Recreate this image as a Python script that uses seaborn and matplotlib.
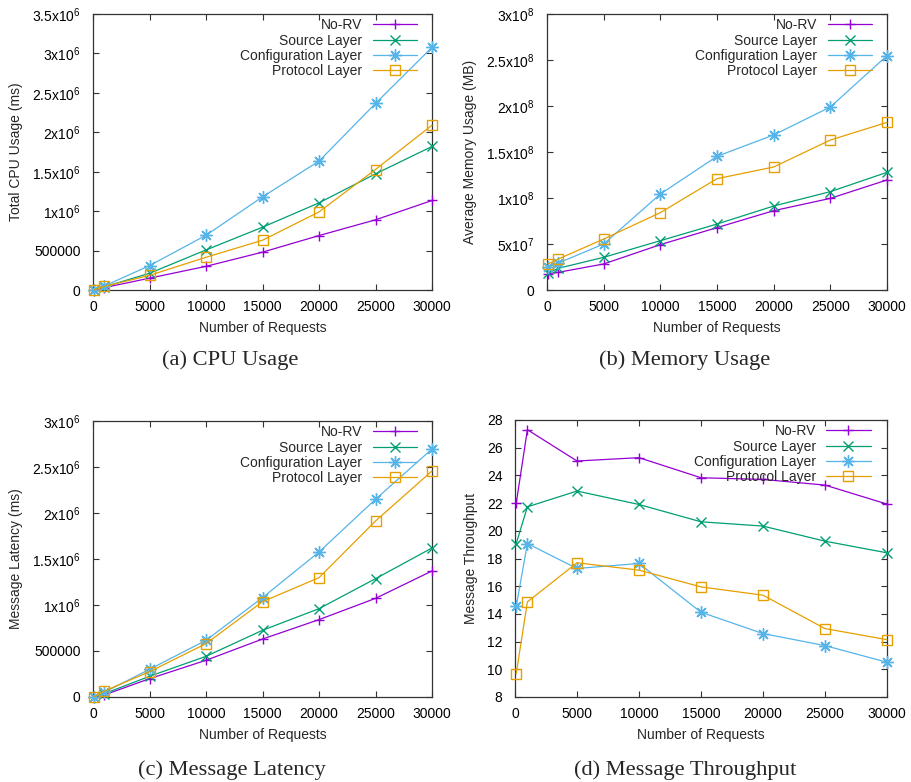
import matplotlib
matplotlib.use("Agg")
import matplotlib.pyplot as plt
import seaborn as sns
import numpy as np

# ---------------- data ----------------
requests = [100, 1000, 5000, 10000, 15000, 20000, 25000, 30000]
series_names = ["No-RV", "Source Layer", "Configuration Layer", "Protocol Layer"]

cpu_norv = [3000, 30000, 150000, 300000, 480000, 690000, 890000, 1135000]
cpu_source = [4000, 40000, 212000, 508000, 796000, 1105000, 1473000, 1820000]
cpu_config = [5000, 50000, 309000, 694000, 1181000, 1634000, 2366000, 3077000]
cpu_protocol = [5000, 45000, 186000, 415000, 631000, 990000, 1528000, 2090000]

mem_norv = [1.78e7, 1.92e7, 2.83e7, 4.93e7, 6.78e7, 8.62e7, 9.96e7, 1.196e8]
mem_source = [1.85e7, 2.36e7, 3.55e7, 5.36e7, 7.17e7, 9.13e7, 1.069e8, 1.279e8]
mem_config = [2.46e7, 2.93e7, 5.0e7, 1.043e8, 1.453e8, 1.685e8, 1.989e8, 2.547e8]
mem_protocol = [2.83e7, 3.37e7, 5.54e7, 8.41e7, 1.21e8, 1.337e8, 1.63e8, 1.822e8]

lat_norv = [2000, 22000, 199000, 399000, 630000, 841000, 1072000, 1370000]
lat_source = [2000, 36000, 225000, 442000, 725000, 960000, 1286000, 1620000]
lat_config = [3000, 51000, 301000, 616000, 1080000, 1576000, 2149000, 2696000]
lat_protocol = [3000, 65000, 275000, 580000, 1036000, 1297000, 1913000, 2457000]

thr_norv = [22.0, 27.3, 25.04, 25.28, 23.83, 23.71, 23.3, 21.93]
thr_source = [19.08, 21.73, 22.87, 21.9, 20.65, 20.34, 19.25, 18.41]
thr_config = [14.55, 19.08, 17.28, 17.64, 14.12, 12.58, 11.71, 10.51]
thr_protocol = [9.69, 14.87, 17.69, 17.16, 15.95, 15.35, 12.94, 12.14]

x_ticks = [0, 5000, 10000, 15000, 20000, 25000, 30000]

cpu_yticks = [0, 5e5, 1e6, 1.5e6, 2e6, 2.5e6, 3e6, 3.5e6]
cpu_ylabels = ["0", "500000", r"$\mathregular{1x10^{6}}$", r"$\mathregular{1.5x10^{6}}$",
               r"$\mathregular{2x10^{6}}$", r"$\mathregular{2.5x10^{6}}$",
               r"$\mathregular{3x10^{6}}$", r"$\mathregular{3.5x10^{6}}$"]
mem_yticks = [0, 5e7, 1e8, 1.5e8, 2e8, 2.5e8, 3e8]
mem_ylabels = ["0", r"$\mathregular{5x10^{7}}$", r"$\mathregular{1x10^{8}}$",
               r"$\mathregular{1.5x10^{8}}$", r"$\mathregular{2x10^{8}}$",
               r"$\mathregular{2.5x10^{8}}$", r"$\mathregular{3x10^{8}}$"]
lat_yticks = [0, 5e5, 1e6, 1.5e6, 2e6, 2.5e6, 3e6]
lat_ylabels = ["0", "500000", r"$\mathregular{1x10^{6}}$", r"$\mathregular{1.5x10^{6}}$",
               r"$\mathregular{2x10^{6}}$", r"$\mathregular{2.5x10^{6}}$",
               r"$\mathregular{3x10^{6}}$"]
thr_yticks = [8, 10, 12, 14, 16, 18, 20, 22, 24, 26, 28]
thr_ylabels = [str(v) for v in thr_yticks]

captions = ["(a) CPU Usage", "(b) Memory Usage", "(c) Message Latency", "(d) Message Throughput"]
ylabels = ["Total CPU Usage (ms)", "Average Memory Usage (MB)", "Message Latency (ms)", "Message Throughput"]
xlabel = "Number of Requests"

# ---------------- style ----------------
sns.set_style("ticks")
plt.rcParams["font.family"] = ["Liberation Sans", "DejaVu Sans"]
plt.rcParams["mathtext.fontset"] = "custom"
plt.rcParams["mathtext.rm"] = "Liberation Sans"
plt.rcParams["mathtext.it"] = "Liberation Sans:italic"
plt.rcParams["mathtext.bf"] = "Liberation Sans:bold"

colors = ["#9400d3", "#009e73", "#56b4e9", "#e69f00"]
markers = ["+", "x", (8, 2, 0), "s"]
msizes = [7.5, 7.2, 9, 7.7]

fig = plt.figure(figsize=(9.11, 7.82), dpi=100)

axes_pos = [
    [93 / 911, (782 - 290) / 782, 339 / 911, 276 / 782],
    [547 / 911, (782 - 290) / 782, 340 / 911, 276 / 782],
    [93 / 911, (782 - 697) / 782, 339 / 911, 276 / 782],
    [515 / 911, (782 - 697) / 782, 372 / 911, 277 / 782],
]
datasets = [
    [cpu_norv, cpu_source, cpu_config, cpu_protocol],
    [mem_norv, mem_source, mem_config, mem_protocol],
    [lat_norv, lat_source, lat_config, lat_protocol],
    [thr_norv, thr_source, thr_config, thr_protocol],
]
yticks_all = [cpu_yticks, mem_yticks, lat_yticks, thr_yticks]
ylabels_all = [cpu_ylabels, mem_ylabels, lat_ylabels, thr_ylabels]
ylims = [(0, 3.5e6), (0, 3e8), (0, 3e6), (8, 28)]
cap_pos = [(230 / 911, 1 - 360 / 782), (685 / 911, 1 - 360 / 782),
           (232 / 911, 1 - 770 / 782), (685 / 911, 1 - 770 / 782)]

for i in range(4):
    ax = fig.add_axes(axes_pos[i])
    for j, name in enumerate(series_names):
        sns.lineplot(x=requests, y=datasets[i][j], ax=ax, color=colors[j],
                     marker=markers[j], markersize=msizes[j],
                     markeredgecolor=colors[j], markerfacecolor="none",
                     markeredgewidth=1.0, linewidth=0.9, label=name,
                     clip_on=False, zorder=3)
    ax.set_xlim(0, 30000)
    ax.set_ylim(*ylims[i])
    ax.set_xticks(x_ticks)
    ax.set_xticklabels([str(v) for v in x_ticks])
    ax.set_yticks(yticks_all[i])
    ax.set_yticklabels(ylabels_all[i])
    ax.tick_params(direction="in", top=True, right=True, length=4, width=0.8,
                   labelsize=10, colors="#333333", labelcolor="black")
    ax.tick_params(axis="y", pad=9)
    ax.tick_params(axis="x", pad=7)
    for sp in ax.spines.values():
        sp.set_visible(True)
        sp.set_linewidth(0.9)
        sp.set_color("#333333")
    ax.set_xlabel(xlabel, fontsize=10, labelpad=5)
    ax.set_ylabel(ylabels[i], fontsize=10, labelpad=6)
    ax.legend(loc="upper right", bbox_to_anchor=(0.956, 0.985), markerfirst=False,
              frameon=False, fontsize=10, handlelength=3.2, handletextpad=0.75,
              labelspacing=0.1, borderpad=0, borderaxespad=0)
    fig.text(cap_pos[i][0], cap_pos[i][1], captions[i], ha="center", va="center",
             fontsize=16.2, family="Liberation Serif")

fig.savefig("out.png", dpi=100)
